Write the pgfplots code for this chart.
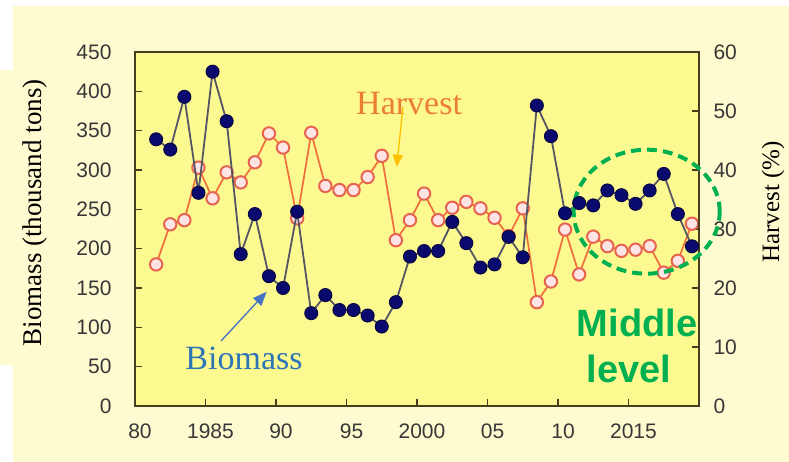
\documentclass[border=0pt]{standalone}
\usepackage{fontspec}
\setmainfont{Liberation Serif}
\newfontfamily\arialfont{Liberation Sans}
\usepackage{pgfplots}
\pgfplotsset{compat=1.18}
\usetikzlibrary{arrows.meta}
\definecolor{outerbg}{RGB}{255,251,208}
\definecolor{plotbg}{RGB}{253,249,145}
\definecolor{framecol}{RGB}{70,60,30}
\definecolor{navy}{RGB}{10,10,110}
\definecolor{bioline}{RGB}{85,85,100}
\definecolor{harvline}{RGB}{240,110,60}
\definecolor{harvring}{RGB}{230,100,80}
\definecolor{harvfill}{RGB}{255,228,230}
\definecolor{goldarrow}{RGB}{255,192,0}
\definecolor{bluetext}{RGB}{46,117,182}
\definecolor{bluearrow}{RGB}{68,114,196}
\definecolor{greenc}{RGB}{0,176,80}
\definecolor{tickc}{RGB}{55,55,55}
\definecolor{harvtext}{RGB}{237,125,49}

\pgfplotsset{common/.style={
  scale only axis, width=564pt, height=354pt,
  at={(135pt,56pt)}, anchor=south west,
  xmin=1979.5, xmax=2019.5,
  axis line style={framecol, line width=1.5pt},
  tick style={framecol, line width=1.2pt},
  tick align=inside, major tick length=7pt,
  clip=false,
  ticklabel style={font=\arialfont\fontsize{21}{21}\selectfont, text=tickc},
  /pgf/number format/assume math mode=true,
}}

\begin{document}
\begin{tikzpicture}[x=1pt,y=1pt]
\fill[white] (0,0) rectangle (789,462);
\fill[outerbg] (13,0) rectangle (789,456);
\fill[outerbg] (0,97) rectangle (50,392);
\useasboundingbox (0,0) rectangle (789,462);

\begin{axis}[common,
  axis background/.style={fill=plotbg},
  ymin=0, ymax=60, ytick={0,10,...,60}, ytick pos=right,
  xtick={1979.5,1984.5,1989.5,1994.5,1999.5,2004.5,2009.5,2014.5},
  xticklabels={80,1985,90,95,2000,05,10,2015},
  xtick pos=left,
  xticklabel style={xshift=5pt, yshift=-14pt},
  yticklabel style={xshift=11pt},
]
\addplot[harvline, line width=1.7pt, mark=*, mark size=6.2pt,
  mark options={draw=harvring, fill=harvfill, line width=2pt}] coordinates {
(1981,24.0) (1982,30.8) (1983,31.5) (1984,40.4) (1985,35.2) (1986,39.6)
(1987,37.9) (1988,41.3) (1989,46.2) (1990,43.8) (1991,31.8) (1992,46.3)
(1993,37.3) (1994,36.6) (1995,36.6) (1996,38.8) (1997,42.4) (1998,28.1)
(1999,31.5) (2000,36.0) (2001,31.5) (2002,33.6) (2003,34.6) (2004,33.5)
(2005,31.9) (2006,28.8) (2007,33.5) (2008,17.6) (2009,21.1) (2010,29.9)
(2011,22.3) (2012,28.7) (2013,27.1) (2014,26.3) (2015,26.5) (2016,27.1)
(2017,22.6) (2018,24.6) (2019,30.9)
};
\end{axis}

\begin{axis}[common,
  ymin=0, ymax=450, ytick={0,50,...,450}, ytick pos=left,
  xtick=\empty,
  yticklabel style={xshift=-20pt},
]
\addplot[bioline, line width=1.8pt, mark=*, mark size=6.5pt,
  mark options={draw=navy!60!black, fill=navy, line width=1pt}] coordinates {
(1981,339) (1982,326) (1983,393) (1984,271) (1985,425) (1986,362)
(1987,193) (1988,244) (1989,165) (1990,150) (1991,247) (1992,118)
(1993,141) (1994,122) (1995,122) (1996,115) (1997,101) (1998,132)
(1999,190) (2000,197) (2001,197) (2002,234) (2003,207) (2004,176)
(2005,180) (2006,215) (2007,189) (2008,382) (2009,343) (2010,245)
(2011,258) (2012,255) (2013,274) (2014,268) (2015,257) (2016,274)
(2017,295) (2018,244) (2019,203)
};
\node[anchor=base, text=harvtext, font=\fontsize{34}{34}\selectfont, inner sep=0pt]
  at (axis cs:1998.94,370) {Harvest};
\draw[goldarrow, line width=1.3pt, -{Triangle[length=12pt,width=10pt]}]
  (axis cs:1998.5,380) -- (axis cs:1998.06,304);
\node[anchor=base, text=bluetext, font=\fontsize{34}{34}\selectfont, inner sep=0pt]
  at (axis cs:1987.23,45.8) {Biomass};
\draw[bluearrow, line width=1.3pt, -{Triangle[length=14pt,width=11pt]}]
  (axis cs:1985.6,82.6) -- (axis cs:1988.84,145.3);
\draw[greenc, line width=4pt, dash pattern=on 10pt off 6pt]
  (axis cs:2015.79,247) ellipse [x radius=73pt, y radius=62pt];
\node[anchor=base west, text=greenc, font=\arialfont\bfseries\fontsize{38}{38}\selectfont, inner sep=0pt]
  at (axis cs:2010.83,88.1) {Middle};
\node[anchor=base west, text=greenc, font=\arialfont\bfseries\fontsize{38}{38}\selectfont, inner sep=0pt]
  at (axis cs:2011.54,29.6) {level};
\end{axis}

\node[rotate=90, font=\fontsize{27}{27}\selectfont, inner sep=0pt] at (35,249) {Biomass (thousand tons)};
\node[rotate=90, font=\fontsize{25}{25}\selectfont, inner sep=0pt] at (773,260) {Harvest (\%)};
\end{tikzpicture}
\end{document}
